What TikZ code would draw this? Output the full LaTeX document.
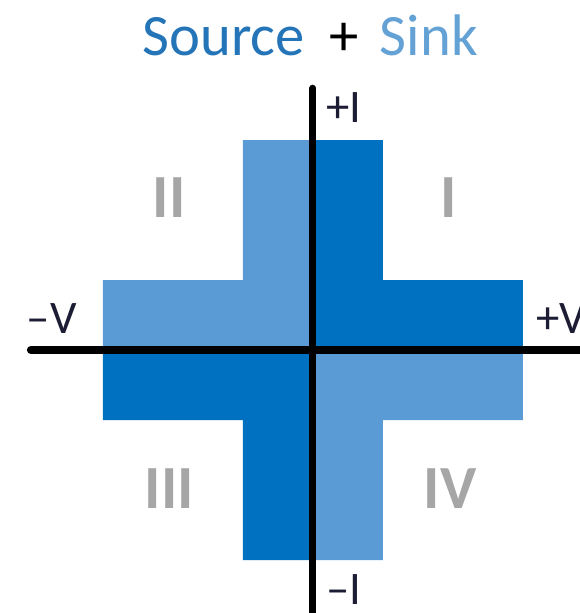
\documentclass[tikz,border=0pt]{standalone}
\usepackage{fontspec}
\setmainfont{Carlito}
\definecolor{darkfill}{HTML}{0070C0}
\definecolor{lightfill}{HTML}{5B9BD5}
\definecolor{sourceblue}{HTML}{2474B8}
\definecolor{sinkblue}{HTML}{64A2D6}
\definecolor{numgray}{HTML}{A6A6A6}
\definecolor{labelink}{HTML}{1C1C34}
\tikzset{
  axislabel/.style={font=\fontsize{35}{40}\selectfont, text=labelink, inner sep=0pt},
  quadlabel/.style={font=\fontsize{46}{50}\selectfont\bfseries, text=numgray, inner sep=0pt},
}
\begin{document}
\begin{tikzpicture}[x=52.5pt, y=52.5pt]
      \useasboundingbox (-4.471,-3.757) rectangle (3.814,5);

      % Quadrant areas
      \fill[darkfill] (0,0) -- (0,3) -- (1,3) -- (1,1) -- (3,1) -- (3,0) -- cycle;
      \fill[lightfill] (0,0) -- (0,3) -- (-1,3) -- (-1,1) -- (-3,1) -- (-3,0) -- cycle;
      \fill[darkfill] (0,0) -- (0,-3) -- (-1,-3) -- (-1,-1) -- (-3,-1) -- (-3,0) -- cycle;
      \fill[lightfill] (0,0) -- (0,-3) -- (1,-3) -- (1,-1) -- (3,-1) -- (3,0) -- cycle;

      % Axes
      \coordinate (vleft) at (-4.03,0);
      \coordinate (vright) at (4,0);
      \coordinate (itop) at (0,3.74);
      \coordinate (ibottom) at (0,-4);
      \draw[line width=6pt, line cap=round] (vleft) -- (vright);
      \draw[line width=5.25pt, line cap=round] (itop) -- (ibottom);

      % Axis labels
      \node[axislabel, anchor=base west] (plusi) at (0.19,3.257) {+I};
      \node[axislabel, anchor=base west] (minusi) at (0.19,-3.64) {\textendash I};
      \node[axislabel, anchor=base west] (minusv) at (-4.09,0.24) {\textendash V};
      \node[axislabel, anchor=base west] (plusv) at (3.19,0.24) {+V};

      % Quadrant numbers
      \node[quadlabel, anchor=base] (qii) at (-2.057,1.886) {II};
      \node[quadlabel, anchor=base] (qi) at (1.943,1.886) {I};
      \node[quadlabel, anchor=base] (qiii) at (-2.05,-2.257) {III};
      \node[quadlabel, anchor=base] (qiv) at (1.957,-2.257) {IV};

      % Title
      \node[font=\fontsize{44}{48}\selectfont, anchor=base, inner sep=0pt] (title) at (-0.04,4.214)
        {\textcolor{sourceblue}{Source}\hspace{0.42em}+\hspace{0.36em}\textcolor{sinkblue}{Sink}};
    \end{tikzpicture}
\end{document}
